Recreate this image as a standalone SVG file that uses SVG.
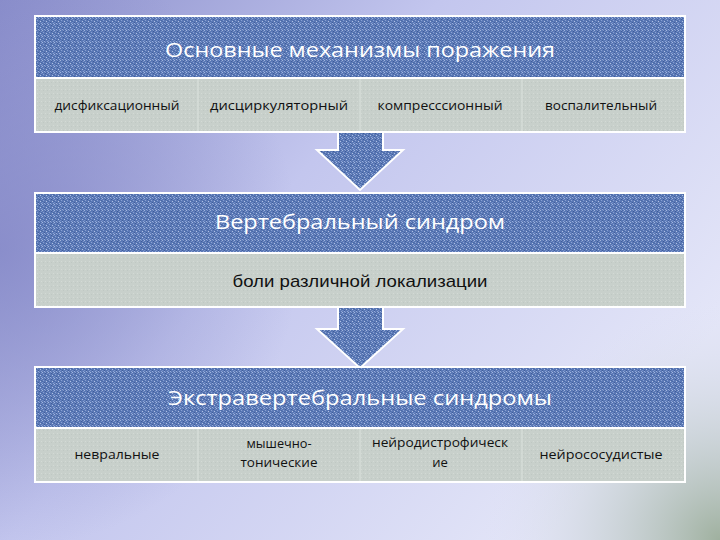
<svg xmlns="http://www.w3.org/2000/svg" width="720" height="540" viewBox="0 0 720 540">
<defs>
<linearGradient id="bg" x1="0" y1="0" x2="1" y2="0.6">
<stop offset="0" stop-color="#8a8ecb"/>
<stop offset="0.45" stop-color="#c3c6ee"/>
<stop offset="1" stop-color="#e4e6f8"/>
</linearGradient>
<radialGradient id="corner" cx="720" cy="540" r="240" gradientUnits="userSpaceOnUse">
<stop offset="0" stop-color="#93a78f" stop-opacity="0.85"/>
<stop offset="0.5" stop-color="#bcc8c4" stop-opacity="0.45"/>
<stop offset="1" stop-color="#dfe2f5" stop-opacity="0"/>
</radialGradient>
<radialGradient id="tl" cx="0" cy="250" r="300" gradientUnits="userSpaceOnUse">
<stop offset="0" stop-color="#7f83c4" stop-opacity="0.7"/>
<stop offset="1" stop-color="#7f83c4" stop-opacity="0"/>
</radialGradient>
<pattern id="tex" width="6" height="6" patternUnits="userSpaceOnUse">
<rect width="6" height="6" fill="#5a78b5"/>
<rect x="0" y="0" width="1" height="1" fill="#a3b6de"/>
<rect x="3" y="0" width="1" height="1" fill="#7d96cb"/>
<rect x="3" y="1" width="1" height="1" fill="#3e5b99"/>
<rect x="1" y="2" width="1" height="1" fill="#8aa2d4"/>
<rect x="5" y="2" width="1" height="1" fill="#4a68a6"/>
<rect x="4" y="3" width="1" height="1" fill="#b0c1e4"/>
<rect x="0" y="3" width="1" height="1" fill="#486aa9"/>
<rect x="2" y="4" width="1" height="1" fill="#3f5d9c"/>
<rect x="5" y="5" width="1" height="1" fill="#8ea5d6"/>
<rect x="0" y="4" width="1" height="1" fill="#7590c8"/>
<rect x="5" y="1" width="1" height="1" fill="#7d97cc"/>
<rect x="2" y="5" width="1" height="1" fill="#98addb"/>
<rect x="4" y="0" width="1" height="1" fill="#4b69a6"/>
</pattern>
<pattern id="tex2" width="4" height="4" patternUnits="userSpaceOnUse">
<rect width="4" height="4" fill="#c8d0cb"/>
<rect x="1" y="1" width="1" height="1" fill="#d3dad5"/>
<rect x="3" y="2" width="1" height="1" fill="#bfc8c3"/>
</pattern>
<style>
.hdr{fill:url(#tex);stroke:#ffffff;stroke-width:2}
.row{fill:url(#tex2);stroke:#ffffff;stroke-width:2}
.div{stroke:#d8dfdb;stroke-width:1.2}
.arrow{fill:url(#tex);stroke:#ffffff;stroke-width:2}
.title{font-family:"Open Sans","Liberation Sans",sans-serif;font-size:20px;fill:#ffffff;text-anchor:middle}
.lbl{font-family:"Open Sans","Liberation Sans",sans-serif;font-size:13px;fill:#111111;text-anchor:middle}
.sub{font-family:"Liberation Sans Narrow","Liberation Sans",sans-serif;font-size:17px;fill:#111111;text-anchor:middle}
</style>
</defs>
<rect width="720" height="540" fill="url(#bg)"/>
<rect width="720" height="540" fill="url(#tl)"/>
<rect width="720" height="540" fill="url(#corner)"/>

<g id="connectors">
<path class="arrow" d="M338,131 L383,131 L383,150 L403,150 L360,190 L317,150 L338,150 Z"/>
<path class="arrow" d="M338,306 L383,306 L383,329 L403,329 L360,368 L317,329 L338,329 Z"/>
</g>

<g id="box1">
<rect class="hdr" x="35" y="16" width="650" height="62"/>
<rect class="row" x="35" y="78" width="650" height="54"/>
<line class="div" x1="198" y1="79" x2="198" y2="131"/>
<line class="div" x1="360" y1="79" x2="360" y2="131"/>
<line class="div" x1="522" y1="79" x2="522" y2="131"/>
<text class="title" x="360" y="57" textLength="390" lengthAdjust="spacingAndGlyphs">Основные механизмы поражения</text>
<text class="lbl" x="117" y="110" textLength="125" lengthAdjust="spacingAndGlyphs">дисфиксационный</text>
<text class="lbl" x="279" y="110" textLength="138" lengthAdjust="spacingAndGlyphs">дисциркуляторный</text>
<text class="lbl" x="440" y="110" textLength="125" lengthAdjust="spacingAndGlyphs">компресссионный</text>
<text class="lbl" x="601" y="110" textLength="112" lengthAdjust="spacingAndGlyphs">воспалительный</text>
</g>

<g id="box2">
<rect class="hdr" x="35" y="193" width="650" height="60"/>
<rect class="row" x="35" y="253" width="650" height="54"/>
<text class="title" x="360" y="229" textLength="290" lengthAdjust="spacingAndGlyphs">Вертебральный синдром</text>
<text class="sub" x="360" y="287" textLength="255" lengthAdjust="spacingAndGlyphs">боли различной локализации</text>
</g>

<g id="box3">
<rect class="hdr" x="35" y="367" width="650" height="61"/>
<rect class="row" x="35" y="428" width="650" height="54"/>
<line class="div" x1="198" y1="429" x2="198" y2="481"/>
<line class="div" x1="360" y1="429" x2="360" y2="481"/>
<line class="div" x1="522" y1="429" x2="522" y2="481"/>
<text class="title" x="360" y="405" textLength="384" lengthAdjust="spacingAndGlyphs">Экстравертебральные синдромы</text>
<text class="lbl" x="117" y="459" textLength="85" lengthAdjust="spacingAndGlyphs">невральные</text>
<text class="lbl" x="279" y="448" textLength="65" lengthAdjust="spacingAndGlyphs">мышечно-</text>
<text class="lbl" x="279" y="467" textLength="77" lengthAdjust="spacingAndGlyphs">тонические</text>
<text class="lbl" x="440" y="447" textLength="136" lengthAdjust="spacingAndGlyphs">нейродистрофическ</text>
<text class="lbl" x="440" y="467">ие</text>
<text class="lbl" x="601" y="459" textLength="123" lengthAdjust="spacingAndGlyphs">нейрососудистые</text>
</g>
</svg>
